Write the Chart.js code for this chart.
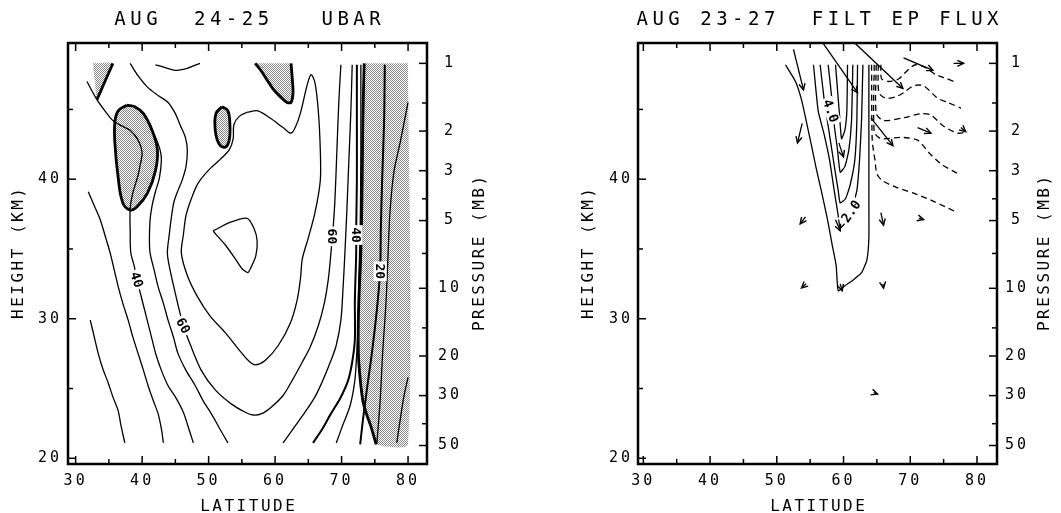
<!DOCTYPE html>
<html>
<head>
<meta charset="utf-8">
<script src="https://cdn.jsdelivr.net/npm/chart.js@4.4.1/dist/chart.umd.min.js"></script>
<style>
  html, body { margin: 0; padding: 0; background: #fff; }
  #wrap { position: relative; width: 1061px; height: 513px; }
  canvas { position: absolute; top: 0; }
</style>
</head>
<body>
<div id="wrap">
  <canvas id="ubar" width="530" height="513" style="left:0;width:530px;height:513px"></canvas>
  <canvas id="epflux" width="531" height="513" style="left:530px;width:531px;height:513px"></canvas>
</div>
<script>
// axes
const latTicks = [30, 40, 50, 60, 70, 80];
const latMinor = [35, 45, 55, 65, 75];
const kmTicks = [20, 30, 40];
const kmMinor = [25, 35, 45];
const mbTicks = [1, 2, 3, 5, 10, 20, 30, 50];
const mbMinor = [1.5, 4, 7, 15, 40];

// UBAR contours, [latitude, height km]
const uShadeNW = [[32.6,48.3],[35.6,48.3],[34.4,47.0],[33.2,45.7],[32.9,47.0]];
const uEdgeNW = [[35.6,48.3],[34.4,47.0],[33.2,45.7]];
const uLine20 = [[32.2,29.9],[32.8,28.7],[33.4,27.5],[34.1,26.4],[34.9,25.4],[35.6,24.4],[36.4,23.4],[36.8,22.4],[37.4,21.1]];
const uLine30 = [[31.9,39.1],[32.8,38.1],[33.7,37.1],[34.4,36.0],[35.2,34.7],[35.8,33.5],[36.4,32.3],[37.1,31.1],[37.9,29.9],[38.6,28.7],[39.4,27.5],[40.2,26.3],[40.9,25.2],[41.7,24.1],[42.4,23.2],[42.9,22.1],[43.2,21.1]];
const uLine40 = [[31.7,47.0],[33.2,45.7],[34.4,44.9],[35.6,44.2],[37.0,43.8],[38.2,43.5],[39.4,42.8],[40.0,41.9],[39.7,41.0],[39.4,40.3],[38.6,39.0],[38.2,37.9],[38.2,36.3],[38.3,34.7],[38.8,33.8],[39.2,32.8],[39.8,31.7],[40.6,30.2],[41.4,28.7],[42.1,27.4],[42.9,26.3],[43.9,25.2],[45.0,24.4],[46.2,23.3],[46.9,22.3],[47.7,21.1]];
const uBlob = [[37.7,45.3],[38.9,45.2],[40.2,44.7],[41.5,43.5],[42.3,42.1],[42.0,40.6],[40.8,39.0],[39.2,38.0],[38.2,37.8],[37.1,38.3],[36.4,40.1],[35.9,42.6],[35.9,44.1],[36.4,44.9],[37.7,45.3]];
const uLine50 = [[41.2,43.7],[42.1,42.9],[42.7,42.1],[42.9,41.4],[42.6,40.1],[42.0,39.1],[41.5,38.1],[41.2,37.1],[41.1,35.6],[41.2,34.7],[41.8,33.5],[42.4,32.3],[43.2,31.1],[43.9,29.9],[44.7,28.7],[45.4,27.5],[46.6,26.3],[48.0,25.2],[49.2,24.1],[50.4,23.2],[51.7,22.1],[52.9,21.1]];
const uLine60 = [[38.2,48.3],[39.4,47.4],[40.8,46.6],[42.4,46.0],[43.9,45.5],[45.0,44.7],[45.7,43.9],[46.5,43.0],[46.8,42.1],[46.6,40.9],[46.0,39.9],[45.4,39.2],[44.8,38.4],[44.5,37.6],[44.1,36.1],[43.8,34.7],[44.2,33.5],[45.0,31.8],[45.6,30.6],[46.2,29.5],[47.2,28.2],[48.9,26.3],[51.0,24.9],[53.4,23.9],[55.5,23.3],[56.7,23.1],[58.0,23.2],[59.5,23.7],[61.2,24.5],[62.6,25.6],[64.1,26.9],[65.3,28.0],[66.5,29.5],[67.4,31.1],[68.0,32.8],[68.4,34.7],[68.7,36.3],[69.0,38.5],[69.3,42.1],[69.6,45.7],[69.9,48.2]];
const uLine70 = [[55.8,44.8],[54.6,44.5],[53.8,43.9],[53.7,42.9],[53.1,42.1],[51.7,41.4],[49.9,40.6],[48.4,39.7],[47.4,38.6],[46.6,37.4],[46.2,36.0],[45.9,34.7],[46.8,33.1],[48.3,31.6],[50.2,30.2],[52.5,29.0],[54.7,27.7],[56.2,26.9],[57.1,26.7],[58.5,27.0],[60.5,28.1],[62.3,29.7],[63.3,31.3],[63.8,32.8],[64.1,34.3],[65.0,35.8],[66.0,37.6],[66.8,39.9],[66.8,42.1],[66.5,44.9],[66.0,46.9],[65.4,47.5],[64.8,46.7],[63.9,44.9],[63.2,43.9],[62.4,43.3],[61.2,43.7],[59.2,44.4],[57.4,44.9],[55.8,44.8]];
const uLine80 = [[50.7,36.3],[53.2,36.9],[55.8,37.2],[56.8,36.5],[57.3,35.6],[57.1,34.5],[56.5,33.8],[55.9,33.3],[55.0,33.6],[54.0,34.3],[52.5,35.3],[51.0,36.1],[50.7,36.3]];
const uArcTop = [[42.0,48.2],[43.5,48.0],[45.0,47.8],[46.5,47.9],[48.7,48.3]];
const uBlobSmall = [[52.0,45.2],[52.9,44.9],[53.2,43.9],[53.1,42.8],[52.5,42.3],[51.6,42.5],[51.0,43.5],[51.1,44.7],[52.0,45.2]];
const uShadeNE = [[57.0,48.3],[58.0,47.7],[58.8,47.1],[59.8,46.4],[60.8,45.9],[61.8,45.5],[62.4,45.5],[62.7,46.2],[62.6,47.1],[62.4,48.3]];
const uRight50 = [[71.6,48.2],[71.4,44.9],[71.1,41.4],[70.8,37.8],[70.5,34.7],[70.2,32.0],[69.9,29.9],[69.2,28.1],[68.4,27.0],[67.2,25.6],[66.0,24.4],[64.5,23.3],[63.0,22.3],[61.2,21.1]];
const uRight40 = [[72.3,48.2],[72.3,44.2],[72.3,39.9],[72.2,36.3],[72.2,34.7],[72.0,31.3],[72.0,28.5],[71.6,26.9],[71.0,25.6],[69.8,24.3],[68.4,23.2],[67.1,22.1],[65.7,21.1]];
const uRight30 = [[72.9,48.2],[72.9,42.1],[72.8,36.3],[72.6,32.8],[72.5,29.9],[72.3,27.7],[72.0,25.6],[71.3,23.8],[70.2,22.4],[69.2,21.1]];
const uZero = [[73.4,48.3],[73.2,44.2],[73.1,39.9],[72.9,34.7],[72.6,31.3],[72.5,28.7],[72.6,26.8],[73.2,24.1],[73.8,23.1],[74.4,22.3],[75.2,21.0]];
const uRight20 = [[76.5,48.2],[76.4,44.2],[76.1,39.9],[75.9,36.3],[75.8,33.4],[75.3,30.6],[74.6,27.7],[73.8,24.9],[73.2,22.7],[72.8,21.0]];
const uRightF = [[80.0,45.5],[78.8,42.6],[77.9,40.6],[77.3,37.8],[77.0,34.7],[76.7,31.3],[76.2,27.7],[75.8,24.1],[75.3,21.0]];
const uRightG = [[78.3,21.1],[78.8,22.7],[79.4,24.5],[80.0,25.8]];
const uLabels = [
  {text: '40', lat: 39.2, km: 32.8, rot: 72},
  {text: '60', lat: 46.2, km: 29.5, rot: 62},
  {text: '60', lat: 68.6, km: 35.9, rot: 90},
  {text: '40', lat: 72.2, km: 36.0, rot: 90},
  {text: '20', lat: 75.8, km: 33.4, rot: 90}
];

// EP flux
const epV1 = [[51.3,48.2],[52.8,47.0],[53.7,45.7],[54.4,44.2],[55.2,42.4],[55.9,40.8],[56.8,38.9],[57.6,37.1],[58.3,35.3],[58.9,33.8],[59.2,32.0],[60.3,32.4],[61.5,32.8],[62.7,33.3],[63.5,34.2],[63.8,35.8],[63.8,38.5],[63.8,42.1],[63.8,45.7],[63.8,48.2]];
const epV2 = [[55.5,48.2],[56.2,44.9],[57.1,43.2],[57.9,41.4],[58.6,39.2],[59.2,37.4],[59.5,36.5],[60.3,36.9],[61.2,37.9],[62.0,39.2],[62.4,41.4],[62.7,44.2],[62.9,48.2]];
const epV3 = [[56.5,48.2],[57.1,45.7],[57.9,43.2],[58.6,41.0],[59.2,39.2],[59.5,38.3],[60.3,38.6],[61.0,39.6],[61.7,41.4],[62.0,44.2],[62.1,48.2]];
const epV4 = [[57.7,48.2],[58.2,46.0],[58.6,43.9],[59.1,42.1],[59.5,40.5],[60.2,40.9],[60.8,42.1],[61.2,44.2],[61.4,48.2]];
const epV5 = [[58.8,48.2],[59.1,46.4],[59.4,44.6],[59.7,42.9],[60.2,43.5],[60.5,44.9],[60.6,48.2]];
const epDash1 = [[65.6,48.2],[65.7,47.2],[66.8,47.0],[68.3,47.2],[69.8,47.9],[70.8,48.2],[72.3,48.0],[73.8,47.5],[75.5,47.2],[77.0,46.9]];
const epDash2 = [[65.2,48.2],[65.3,46.2],[66.3,45.8],[67.8,45.9],[69.0,46.2],[70.5,46.7],[72.0,46.7],[74.1,45.8],[75.6,45.5],[77.6,45.1]];
const epDash3 = [[64.9,48.2],[64.9,44.7],[66.0,44.2],[69.0,44.4],[71.6,44.7],[73.1,44.6],[75.0,43.8],[77.1,43.3],[78.6,43.4]];
const epDash4 = [[64.6,48.2],[64.6,43.4],[65.6,42.9],[68.6,43.0],[71.1,42.8],[72.8,41.9],[74.6,41.1],[77.1,40.4]];
const epDash5 = [[64.2,48.2],[64.3,42.8],[64.7,41.4],[65.0,40.4],[65.8,39.9],[68.0,39.4],[70.5,39.0],[73.1,38.5],[77.1,37.6]];
// vectors: lat0, km0, lat1, km1
const epArrows = [
  [52.5,49.3,54.0,46.4], [57.0,49.7,62.1,46.2], [61.8,49.7,68.9,46.5], [69.0,48.7,73.4,47.8],
  [76.5,48.3,78.0,48.3], [64.1,44.4,67.4,42.4], [71.1,43.7,73.1,43.3], [77.6,43.7,78.3,43.4],
  [53.8,44.0,53.1,42.6], [59.3,42.6,60.0,41.6], [54.3,37.3,53.5,36.8], [58.8,37.1,59.5,36.3],
  [65.6,37.6,66.0,36.7], [71.3,37.2,72.0,37.1], [54.4,32.5,53.7,32.2], [59.5,32.5,59.8,32.0],
  [65.9,32.5,66.0,32.2], [64.5,24.7,65.1,24.6]
];
const epLabels = [
  {text: '4.0', lat: 58.1, km: 44.9, rot: 70},
  {text: '2.0', lat: 61.1, km: 37.7, rot: -55}
];

const FONT = 'DejaVu Sans Mono';
Chart.defaults.color = '#000';
Chart.defaults.font.family = FONT;

function kmAtMb(p) { return 48.3 - 7 * Math.log(p); }

function line(arr, extra) {
  return Object.assign({
    data: arr.map(p => ({x: p[0], y: p[1]})),
    borderColor: '#000', borderWidth: 1.3, pointRadius: 0,
    fill: false, tension: 0.3, order: 0
  }, extra || {});
}

function stipple(canvasId) {
  const c = document.createElement('canvas');
  c.width = 2; c.height = 2;
  const g = c.getContext('2d');
  g.fillStyle = '#fff'; g.fillRect(0, 0, 2, 2);
  g.fillStyle = '#8a8a8a'; g.fillRect(0, 0, 1, 1); g.fillRect(1, 1, 1, 1);
  return document.getElementById(canvasId).getContext('2d').createPattern(c, 'repeat');
}

function spacedText(ctx, text, x, y, font, ls, rot) {
  ctx.save();
  ctx.font = font;
  ctx.letterSpacing = ls + 'px';
  ctx.textAlign = 'center';
  ctx.textBaseline = 'middle';
  ctx.translate(x, y);
  if (rot) ctx.rotate(rot);
  ctx.fillText(text, ls / 2, 0);
  ctx.restore();
}

function decor(cfg) {
  return {
    id: 'decor',
    beforeUpdate(chart) { chart.ctx.letterSpacing = '3px'; },
    beforeDraw(chart) { chart.ctx.letterSpacing = '3px'; },
    afterDatasetsDraw(chart) {
      const {ctx, scales: {x, y}} = chart;
      ctx.save();
      ctx.letterSpacing = '0px';
      ctx.font = 'bold 13px "' + FONT + '"';
      ctx.textAlign = 'center';
      ctx.textBaseline = 'middle';
      cfg.labels.forEach(l => {
        const px = x.getPixelForValue(l.lat), py = y.getPixelForValue(l.km);
        const w = ctx.measureText(l.text).width;
        ctx.save();
        ctx.translate(px, py);
        ctx.rotate(l.rot * Math.PI / 180);
        ctx.fillStyle = '#fff';
        ctx.fillRect(-w / 2 - 2, -6.5, w + 4, 13);
        ctx.fillStyle = '#000';
        ctx.fillText(l.text, 0, 1);
        ctx.restore();
      });
      ctx.strokeStyle = '#000';
      ctx.lineWidth = 1.4;
      chart.data.datasets.forEach((ds, i) => {
        if (!ds.arrow) return;
        const m = chart.getDatasetMeta(i).data;
        const p0 = m[0], p1 = m[1];
        const ang = Math.atan2(p1.y - p0.y, p1.x - p0.x);
        ctx.beginPath();
        ctx.moveTo(p1.x - 7 * Math.cos(ang - 0.45), p1.y - 7 * Math.sin(ang - 0.45));
        ctx.lineTo(p1.x, p1.y);
        ctx.lineTo(p1.x - 7 * Math.cos(ang + 0.45), p1.y - 7 * Math.sin(ang + 0.45));
        ctx.stroke();
      });
      ctx.restore();
    },
    afterDraw(chart) {
      const {ctx, chartArea: a, scales: {x, y}} = chart;
      ctx.save();
      ctx.strokeStyle = '#000';
      ctx.lineWidth = 2.5;
      ctx.strokeRect(a.left, a.top, a.right - a.left, a.bottom - a.top);
      ctx.lineWidth = 1.5;
      const seg = (x1, y1, x2, y2) => { ctx.beginPath(); ctx.moveTo(x1, y1); ctx.lineTo(x2, y2); ctx.stroke(); };
      latTicks.forEach(v => { const p = x.getPixelForValue(v); seg(p, a.bottom, p, a.bottom - 8); seg(p, a.top, p, a.top + 8); });
      latMinor.forEach(v => { const p = x.getPixelForValue(v); seg(p, a.bottom, p, a.bottom - 5); seg(p, a.top, p, a.top + 5); });
      kmTicks.forEach(v => { const p = y.getPixelForValue(v); seg(a.left, p, a.left + 8, p); });
      kmMinor.forEach(v => { const p = y.getPixelForValue(v); seg(a.left, p, a.left + 5, p); });
      mbTicks.forEach(v => { const p = y.getPixelForValue(kmAtMb(v)); seg(a.right, p, a.right - 8, p); });
      mbMinor.forEach(v => { const p = y.getPixelForValue(kmAtMb(v)); seg(a.right, p, a.right - 5, p); });
      ctx.fillStyle = '#000';
      const cx = (a.left + a.right) / 2, cy = (a.top + a.bottom) / 2;
      spacedText(ctx, cfg.title, cx, a.top - 23, '19px "' + FONT + '"', 4.5, 0);
      spacedText(ctx, 'LATITUDE', cx, a.bottom + 43, '16px "' + FONT + '"', 2.5, 0);
      spacedText(ctx, 'HEIGHT (KM)', a.left - 49, cy, '16px "' + FONT + '"', 2.5, -Math.PI / 2);
      spacedText(ctx, 'PRESSURE (MB)', a.right + cfg.presOffset, cy, '16px "' + FONT + '"', 2.5, -Math.PI / 2);
      ctx.restore();
    }
  };
}

function panelOptions(p) {
  const tickFont = {family: FONT, size: 15};
  const hidden = {display: false};
  return {
    responsive: false,
    animation: false,
    devicePixelRatio: 1,
    events: [],
    layout: {padding: 0},
    plugins: {legend: hidden, tooltip: {enabled: false}, title: hidden},
    scales: {
      x: {
        type: 'linear', position: 'bottom', min: p.xMin, max: p.xMax,
        afterBuildTicks: s => { s.ticks = latTicks.map(v => ({value: v})); },
        afterFit: s => { s.height = 49; },
        grid: {display: false, drawTicks: false}, border: hidden,
        ticks: {autoSkip: false, maxRotation: 0, padding: 8, font: tickFont}
      },
      xTop: {
        type: 'linear', position: 'top', min: p.xMin, max: p.xMax,
        afterFit: s => { s.height = 43; },
        grid: {display: false, drawTicks: false}, border: hidden, ticks: hidden
      },
      y: {
        type: 'linear', position: 'left', min: 19.59, max: 49.76,
        afterBuildTicks: s => { s.ticks = kmTicks.map(v => ({value: v})); },
        afterFit: s => { s.width = p.leftW; },
        grid: {display: false, drawTicks: false}, border: hidden,
        ticks: {autoSkip: false, padding: p.leftPad, font: tickFont}
      },
      yRight: {
        type: 'linear', position: 'right', min: 19.59, max: 49.76,
        afterBuildTicks: s => { s.ticks = mbTicks.map(v => ({value: kmAtMb(v)})); },
        afterFit: s => { s.width = p.rightW; },
        grid: {display: false, drawTicks: false}, border: hidden,
        ticks: {autoSkip: false, padding: p.rightPad, crossAlign: 'center', font: tickFont,
                callback: (v, i) => String(mbTicks[i])}
      }
    }
  };
}

// left panel
const dots = stipple('ubar');
const thick = {borderWidth: 2.8};
const shadeFill = arr => line(arr, {fill: 'shape', backgroundColor: dots, borderWidth: 0, borderColor: 'rgba(0,0,0,0)', tension: 0.2, order: 2});
new Chart(document.getElementById('ubar'), {
  type: 'line',
  data: {datasets: [
    shadeFill(uShadeNW),
    shadeFill(uZero.concat([[80, 21.0], [80, 48.3]])),
    line(uBlob, {fill: 'shape', backgroundColor: dots, borderWidth: 2.8, order: 1, tension: 0.4}),
    line(uBlobSmall, {fill: 'shape', backgroundColor: dots, borderWidth: 2.8, order: 1, tension: 0.4}),
    line(uShadeNE, {fill: 'shape', backgroundColor: dots, borderWidth: 2.8, order: 1}),
    line(uEdgeNW, Object.assign({tension: 0.1}, thick)),
    line(uZero, thick),
    line(uLine20), line(uLine30), line(uLine40), line(uLine50), line(uLine60),
    line(uLine70), line(uLine80, {tension: 0.2}), line(uArcTop),
    line(uRight50), line(uRight40, {borderWidth: 2}), line(uRight30),
    line(uRight20, {borderWidth: 2}), line(uRightF), line(uRightG)
  ]},
  options: panelOptions({xMin: 28.85, xMax: 82.85, leftW: 68, rightW: 103, leftPad: 6, rightPad: 11}),
  plugins: [decor({title: 'AUG  24-25   UBAR', labels: uLabels, presOffset: 53})]
});

// right panel
const epSets = [
  line(epV1, {tension: 0.15}), line(epV2, {tension: 0.15}), line(epV3, {tension: 0.15}),
  line(epV4, {tension: 0.15}), line(epV5, {tension: 0.15})
].concat([epDash1, epDash2, epDash3, epDash4, epDash5].map(d => line(d, {borderDash: [6, 4], tension: 0.25})))
 .concat(epArrows.map(a => line([[a[0], a[1]], [a[2], a[3]]], {tension: 0, arrow: true})));
new Chart(document.getElementById('epflux'), {
  type: 'line',
  data: {datasets: epSets},
  options: panelOptions({xMin: 29.2, xMax: 83.0, leftW: 108, rightW: 64, leftPad: 5, rightPad: 8}),
  plugins: [decor({title: 'AUG 23-27  FILT EP FLUX', labels: epLabels, presOffset: 48})]
});
</script>
</body>
</html>
